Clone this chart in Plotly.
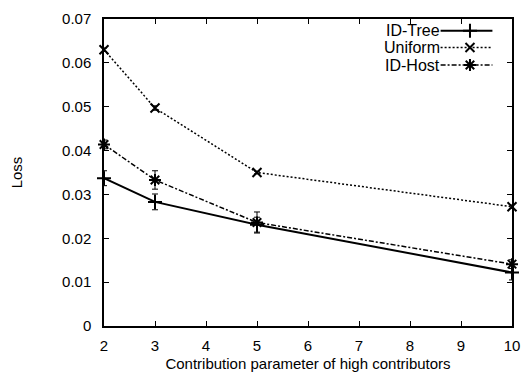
import plotly.graph_objects as go

x_vals = [2, 3, 5, 10]
id_tree = [0.0337, 0.0283, 0.0231, 0.0122]
id_tree_err = [0.0017, 0.0018, 0.0017, 0.0017]
uniform = [0.0630, 0.0497, 0.0350, 0.0272]
uniform_err = [0.0004, 0.0005, 0.0003, 0.0004]
id_host = [0.0414, 0.0333, 0.0236, 0.0141]
id_host_err = [0.0010, 0.0021, 0.0024, 0.0010]

names = ["ID-Tree", "Uniform", "ID-Host"]
x_ticks = [2, 3, 4, 5, 6, 7, 8, 9, 10]
y_ticks = [0, 0.01, 0.02, 0.03, 0.04, 0.05, 0.06, 0.07]

FONT = "Liberation Sans, Arial, sans-serif"
styles = [
    dict(dash="solid", width=2, symbol="cross-thin", msize=10),
    dict(dash="2px,2px", width=1.5, symbol="x-thin", msize=9),
    dict(dash="5px,2px,2px,2px", width=1.5, symbol="asterisk", msize=10),
]
series = [(id_tree, id_tree_err), (uniform, uniform_err), (id_host, id_host_err)]

fig = go.Figure()
for (ys, errs), st, nm in zip(series, styles, names):
    fig.add_trace(go.Scatter(
        x=x_vals, y=ys, name=nm, mode="lines+markers", cliponaxis=False,
        line=dict(color="black", width=st["width"], dash=st["dash"]),
        marker=dict(symbol=st["symbol"], size=st["msize"], color="black",
                    line=dict(color="black", width=2)),
        error_y=dict(type="data", array=errs, visible=True, color="black",
                     thickness=1, width=3),
        showlegend=False,
    ))

# manual legend (text left of sample, gnuplot style) on an overlay axis
leg_y = [0.962, 0.907, 0.850]
for nm, st, ly in zip(names, styles, leg_y):
    fig.add_trace(go.Scatter(
        x=[0.825, 0.952], y=[ly, ly], mode="lines", xaxis="x2", yaxis="y2",
        line=dict(color="black", width=st["width"], dash=st["dash"]),
        showlegend=False, hoverinfo="skip", cliponaxis=False))
    fig.add_trace(go.Scatter(
        x=[0.897], y=[ly], mode="markers", xaxis="x2", yaxis="y2",
        marker=dict(symbol=st["symbol"], size=st["msize"], color="black",
                    line=dict(color="black", width=2)),
        showlegend=False, hoverinfo="skip", cliponaxis=False))
    fig.add_annotation(x=0.8125, y=ly, xref="x2", yref="y2", text=nm,
                       showarrow=False, xanchor="right", yanchor="middle",
                       xshift=6,
                       font=dict(family=FONT, size=16, color="black"))

axis_common = dict(
    showgrid=False, zeroline=False, showline=True, linecolor="black",
    linewidth=1.5, mirror="ticks", ticks="inside", ticklen=5, tickwidth=1,
    tickcolor="black", tickfont=dict(family=FONT, size=15, color="black"),
)
fig.update_layout(
    width=530, height=382,
    margin=dict(l=104, r=10, t=13, b=56),
    paper_bgcolor="white", plot_bgcolor="white",
    xaxis=dict(range=[2, 10], tickvals=x_ticks, ticktext=[str(v) for v in x_ticks],
               ticklabelstandoff=5,
               title=dict(text="Contribution parameter of high contributors",
                          font=dict(family=FONT, size=15, color="black"), standoff=6),
               **axis_common),
    yaxis=dict(range=[0, 0.07], tickvals=y_ticks,
               ticktext=["0", "0.01", "0.02", "0.03", "0.04", "0.05", "0.06", "0.07"],
               ticklabelstandoff=8,
               title=dict(text="Loss", font=dict(family=FONT, size=15, color="black"),
                          standoff=36),
               **axis_common),
    xaxis2=dict(range=[0, 1], overlaying="x", visible=False, fixedrange=True),
    yaxis2=dict(range=[0, 1], overlaying="y", visible=False, fixedrange=True),
    showlegend=False,
)
fig.write_html("out.html")
